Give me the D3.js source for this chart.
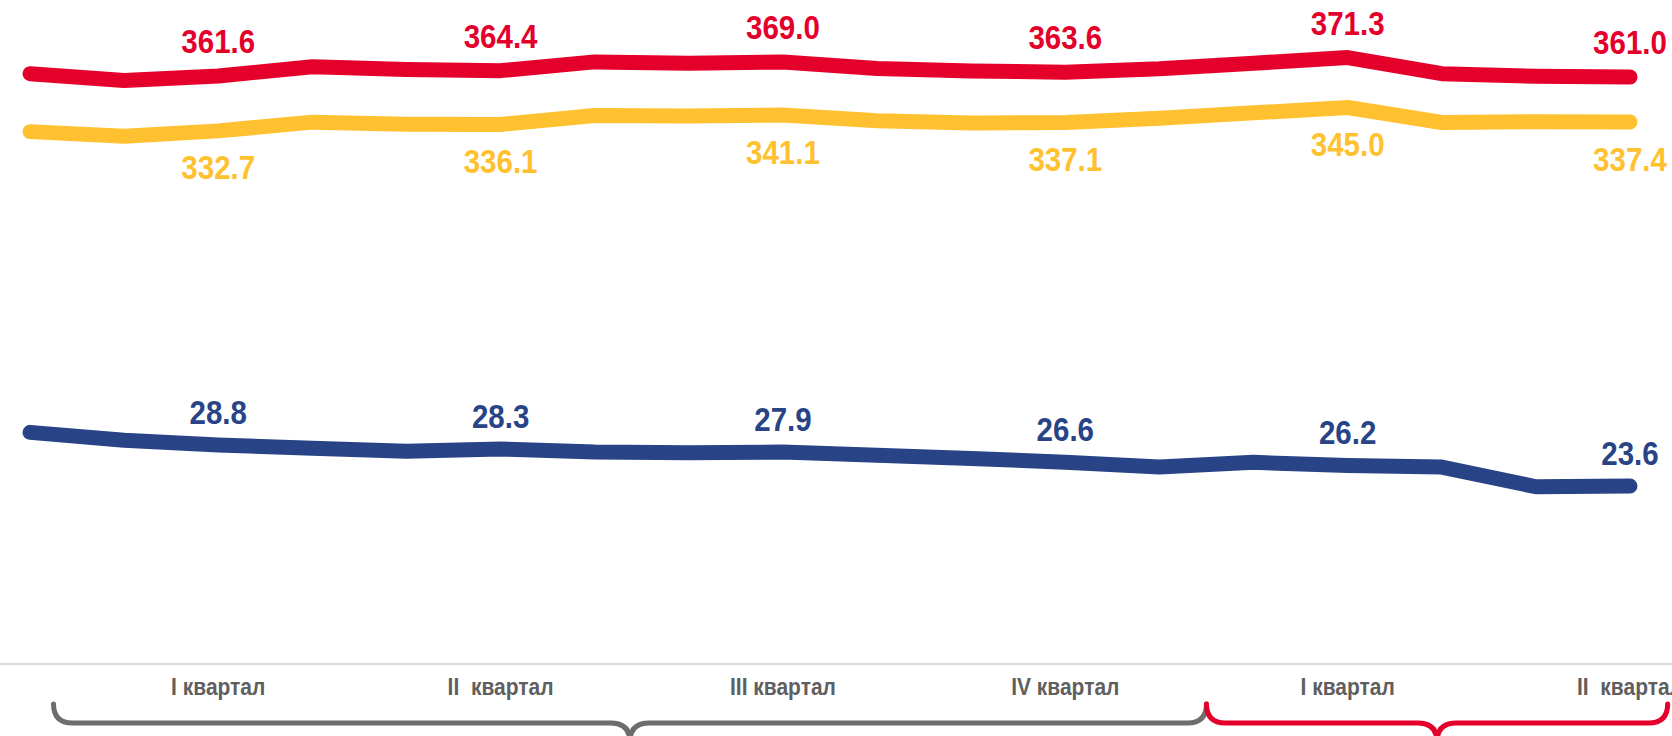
<!DOCTYPE html>
<html>
<head>
<meta charset="utf-8">
<script src="https://d3js.org/d3.v7.min.js"></script>
<style>
  html, body { margin: 0; padding: 0; background: #fff; }
  svg { display: block; }
  text { font-family: "Liberation Sans", Arial, sans-serif; font-weight: bold; }
</style>
</head>
<body>
<svg id="chart" width="1672" height="736"></svg>
<script>
// 18 monthly points: Jan..Dec of first year, Jan..Jun of second year
let months = d3.range(18);

// red and yellow series (left axis), blue series (right axis)
let redValues = [362.8, 359.2, 361.6, 366.4, 365.0, 364.4, 369.0, 368.3, 369.0,
                 365.5, 364.2, 363.6, 365.4, 368.3, 371.3, 362.8, 361.4, 361.0];
let yellowValues = [332.3, 329.9, 332.7, 337.3, 336.2, 336.1, 340.8, 340.5, 341.1,
                    338.0, 336.9, 337.1, 339.4, 342.2, 345.0, 337.1, 337.5, 337.4];
let blueValues = [30.4, 29.4, 28.8, 28.4, 28.0, 28.3, 27.9, 27.8, 27.9,
                  27.5, 27.1, 26.6, 26.0, 26.6, 26.2, 26.0, 23.5, 23.6];

// months that carry value labels and quarter tick labels
let labelMonths = [2, 5, 8, 11, 14, 17];
let quarterLabels = ["I квартал", "II  квартал", "III квартал", "IV квартал", "I квартал", "II  квартал"];

// year braces under the axis, in month units
let braceStarts = [0.25, 12.5];
let braceEnds = [12.5, 17.4];
let braceColors = ["#6d6d6d", "#e4002b"];

let width = 1672;
let height = 736;
let axisY = 664;

let svg = d3.select("#chart");

let xScale = d3.scaleLinear()
  .domain([0, months.length - 1])
  .range([30, 1630]);
let yLeft = d3.scaleLinear()
  .domain([50, 400])
  .range([668, 3]);
let yRight = d3.scaleLinear()
  .domain([0, 85])
  .range([672, 2]);

// category axis line
svg.append("line")
  .attr("x1", 0)
  .attr("x2", width)
  .attr("y1", axisY)
  .attr("y2", axisY)
  .attr("stroke", "#d9d9d9")
  .attr("stroke-width", 2);

let series = [
  {values: redValues, y: yLeft, color: "#e4002b", dy: -22.7},
  {values: yellowValues, y: yLeft, color: "#ffc12f", dy: 48.6},
  {values: blueValues, y: yRight, color: "#284487", dy: -21.4}
];

series.forEach(function(s) {
  let line = d3.line()
    .x((d, i) => xScale(months[i]))
    .y(d => s.y(d));

  svg.append("path")
    .datum(s.values)
    .attr("d", line)
    .attr("fill", "none")
    .attr("stroke", s.color)
    .attr("stroke-width", 15)
    .attr("stroke-linecap", "round")
    .attr("stroke-linejoin", "round");

  svg.append("g").selectAll("text")
    .data(labelMonths)
    .enter().append("text")
    .attr("transform", m => "translate(" + xScale(m) + "," + (s.y(s.values[m]) + s.dy) + ") scale(1,1.1)")
    .attr("text-anchor", "middle")
    .attr("font-size", 29.5)
    .attr("fill", s.color)
    .text(m => d3.format(".1f")(s.values[m]));
});

// quarter tick labels
svg.append("g").selectAll("text")
  .data(quarterLabels)
  .enter().append("text")
  .attr("transform", (d, i) => "translate(" + xScale(labelMonths[i]) + ",695) scale(1,1.1)")
  .attr("text-anchor", "middle")
  .attr("font-size", 21)
  .attr("fill", "#5f5f5f")
  .style("white-space", "pre")
  .text(d => d);

// curly braces grouping the years
let braceTop = 704;
let braceMid = 723;
let r = 19;
braceStarts.forEach(function(s, i) {
  let x0 = xScale(s);
  let x1 = xScale(braceEnds[i]);
  let xm = (x0 + x1) / 2;
  let p = d3.path();
  p.moveTo(x0, braceTop);
  p.quadraticCurveTo(x0, braceMid, x0 + r, braceMid);
  p.lineTo(xm - r, braceMid);
  p.quadraticCurveTo(xm, braceMid, xm, braceMid + r);
  p.quadraticCurveTo(xm, braceMid, xm + r, braceMid);
  p.lineTo(x1 - r, braceMid);
  p.quadraticCurveTo(x1, braceMid, x1, braceTop);
  svg.append("path")
    .attr("d", p.toString())
    .attr("fill", "none")
    .attr("stroke", braceColors[i])
    .attr("stroke-width", 5)
    .attr("stroke-linecap", "round");
});
</script>
</body>
</html>
